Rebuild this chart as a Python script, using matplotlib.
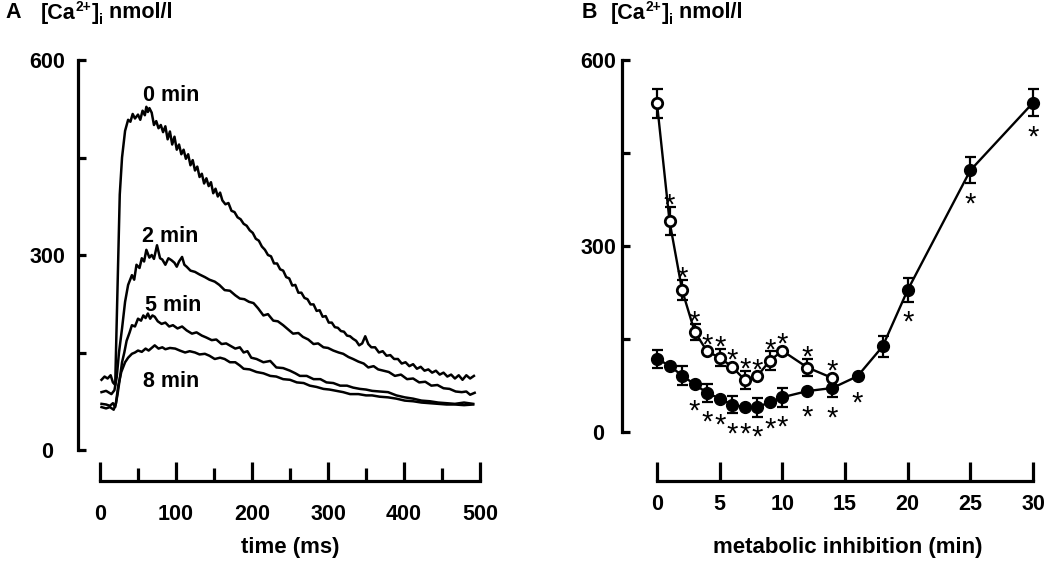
import matplotlib
matplotlib.use("Agg")
import matplotlib.pyplot as plt

plt.rcParams['font.family'] = ['Liberation Sans', 'DejaVu Sans']
plt.rcParams['font.weight'] = 'bold'

# ---------------- Panel A data: [Ca2+]i transients (time ms, nmol/l) ----------------
t_0min = [2, 6, 10, 14, 17, 20, 23, 26, 29, 33, 37, 40, 43, 46, 50, 53, 56, 59, 61, 63,
          65, 68, 71, 74, 77, 80, 83, 86, 89, 92, 95, 98, 101, 104, 107, 110, 113, 116, 119, 122,
          125, 128, 131, 134, 137, 140, 143, 146, 149, 152, 155, 158, 161, 165, 169, 173, 177, 181, 185, 189,
          193, 197, 201, 205, 209, 213, 217, 221, 225, 229, 233, 237, 241, 245, 249, 253, 257, 261, 265, 269,
          273, 277, 281, 285, 289, 293, 297, 301, 305, 309, 313, 317, 321, 325, 329, 333, 337, 341, 345, 349,
          353, 357, 362, 367, 372, 377, 382, 387, 392, 397, 402, 407, 412, 417, 422, 427, 432, 437, 442, 447,
          452, 457, 462, 467, 472, 477, 482, 487, 492]
v_0min = [108, 113, 110, 115, 104, 100, 250, 393, 450, 491, 508, 505, 517, 510, 516, 508, 522, 515, 528, 520,
          526, 519, 500, 506, 495, 500, 489, 498, 478, 490, 470, 482, 462, 470, 455, 462, 448, 455, 438, 446,
          430, 436, 420, 425, 410, 418, 406, 412, 395, 402, 390, 396, 384, 378, 380, 368, 366, 358, 355, 348,
          345, 338, 334, 325, 322, 313, 308, 300, 298, 287, 287, 278, 276, 266, 264, 253, 254, 242, 242, 234,
          232, 224, 224, 214, 215, 205, 206, 196, 196, 189, 188, 183, 182, 176, 175, 171, 168, 161, 164, 175,
          163, 158, 158, 150, 152, 145, 146, 140, 140, 133, 135, 129, 132, 125, 128, 122, 124, 119, 122, 116,
          119, 113, 116, 110, 115, 108, 115, 110, 114]

t_2min = [2, 8, 15, 19, 22, 25, 29, 33, 37, 42, 45, 48, 52, 55, 58, 61, 65, 68, 71, 75,
          79, 82, 86, 90, 94, 98, 101, 104, 108, 111, 114, 119, 125, 131, 138, 144, 151, 157, 164, 171,
          178, 184, 190, 196, 202, 208, 215, 221, 228, 234, 241, 247, 254, 261, 267, 274, 281, 287, 294, 300,
          307, 314, 320, 327, 333, 340, 347, 353, 360, 366, 373, 380, 388, 396, 404, 412, 420, 428, 436, 444,
          452, 460, 468, 476, 482, 487, 493]
v_2min = [89, 91, 86, 92, 112, 150, 187, 228, 254, 269, 262, 285, 280, 295, 290, 308, 296, 300, 294, 315,
          295, 293, 285, 295, 292, 288, 282, 290, 297, 285, 282, 276, 274, 270, 266, 262, 259, 254, 246, 245,
          238, 233, 232, 228, 226, 218, 207, 209, 199, 198, 192, 186, 179, 180, 174, 170, 163, 164, 158, 157,
          153, 150, 148, 143, 140, 136, 133, 127, 129, 124, 122, 120, 114, 116, 109, 110, 104, 105, 99, 100,
          95, 94, 90, 89, 90, 85, 88]

t_5min = [2, 8, 13, 17, 20, 23, 26, 29, 32, 35, 39, 42, 46, 50, 54, 57, 60, 63, 66, 69,
          72, 76, 81, 86, 91, 96, 102, 108, 114, 121, 127, 134, 140, 147, 153, 160, 166, 172, 178, 184,
          189, 194, 199, 206, 215, 224, 232, 241, 250, 257, 263, 272, 281, 290, 298, 307, 316, 325, 333, 342,
          350, 358, 368, 379, 390, 401, 412, 423, 434, 445, 456, 467, 479, 491]
v_5min = [71, 70, 68, 72, 66, 85, 109, 135, 150, 168, 181, 192, 190, 202, 199, 207, 203, 210, 202, 207,
          205, 198, 194, 196, 190, 192, 187, 190, 184, 179, 181, 176, 173, 169, 170, 163, 164, 160, 156, 158,
          150, 152, 142, 140, 135, 137, 127, 126, 122, 118, 114, 114, 109, 109, 104, 103, 99, 99, 96, 94,
          93, 91, 90, 89, 84, 81, 79, 76, 75, 73, 72, 71, 73, 71]

t_8min = [2, 8, 13, 18, 21, 24, 28, 33, 37, 42, 46, 50, 55, 60, 64, 68, 72, 77, 82, 86,
          92, 99, 105, 112, 118, 125, 131, 138, 144, 151, 158, 164, 171, 178, 184, 189, 197, 206, 215, 224,
          232, 241, 250, 259, 268, 276, 285, 294, 302, 311, 320, 329, 340, 350, 358, 368, 379, 390, 401, 412,
          423, 434, 445, 456, 467, 479, 491]
v_8min = [66, 64, 66, 62, 72, 99, 120, 135, 142, 148, 150, 153, 151, 156, 153, 157, 161, 156, 158, 155,
          157, 156, 153, 150, 152, 150, 147, 148, 145, 140, 142, 140, 135, 135, 130, 125, 124, 120, 118, 114,
          113, 109, 108, 104, 103, 99, 97, 94, 93, 91, 89, 86, 86, 84, 84, 82, 81, 79, 76, 75,
          73, 72, 71, 70, 70, 69, 70]

trace_labels = ['0 min', '2 min', '5 min', '8 min']
label_pos_t = [94, 93, 96, 94]
label_pos_v = [546, 328, 223, 106]

# ---------------- Panel B data: [Ca2+]i vs metabolic inhibition ----------------
open_t = [0, 1, 2, 3, 4, 5, 6, 7, 8, 9, 10, 12, 14]
open_v = [530, 340, 229, 162, 130, 120, 105, 84, 90, 115, 131, 104, 87]
open_err = [23, 23, 16, 13, 0, 14, 0, 15, 0, 15, 0, 14, 0]
open_sig = [1, 2, 3, 4, 5, 6, 7, 8, 9, 10, 12, 14]

filled_t = [0, 1, 2, 3, 4, 5, 6, 7, 8, 9, 10, 12, 14, 16, 18, 20, 25, 30]
filled_v = [118, 107, 91, 77, 63, 54, 44, 40, 40, 48, 56, 66, 71, 90, 138, 229, 422, 531]
filled_err = [14, 0, 15, 0, 14, 0, 14, 0, 15, 0, 15, 0, 15, 0, 17, 19, 21, 22]
filled_sig = [3, 4, 5, 6, 7, 8, 9, 10, 12, 14, 16, 20, 25, 30]

W, H = 1048, 563
fig = plt.figure(figsize=(W / 100, H / 100), dpi=100)
PT = 0.72  # points per pixel


def px_axes(x0, x1, ytop, ybot):
    return fig.add_axes([x0 / W, 1 - ybot / H, (x1 - x0) / W, (ybot - ytop) / H])


def style_axes(ax, left_out, bottom_out, xmax, ylab_pad, xlab_pad, xfs):
    for s in ['top', 'right']:
        ax.spines[s].set_visible(False)
    ax.spines['left'].set_position(('outward', left_out * PT))
    ax.spines['bottom'].set_position(('outward', bottom_out * PT))
    ax.spines['left'].set_bounds(0, 600)
    ax.spines['bottom'].set_bounds(0, xmax)
    for s in ['left', 'bottom']:
        ax.spines[s].set_linewidth(2.3)
        ax.spines[s].set_capstyle('projecting')
    ax.set_yticks([0, 300, 600])
    ax.set_yticks([150, 450], minor=True)
    ax.tick_params(axis='y', which='both', direction='in', length=8 * PT, width=2.3,
                   pad=ylab_pad * PT, labelsize=15.5)
    ax.tick_params(axis='x', which='major', direction='in', length=19 * PT, width=2.3,
                   pad=xlab_pad * PT, labelsize=xfs)
    ax.tick_params(axis='x', which='minor', direction='in', length=13 * PT, width=2.3)
    for lab in ax.get_yticklabels():
        lab.set_ha('center')
        lab.set_fontweight('bold')
    for lab in ax.get_xticklabels():
        lab.set_fontweight('bold')
    ax.patch.set_visible(False)


# ---------------- Panel A ----------------
axA = px_axes(100, 480, 60, 450)
axA.set_xlim(0, 500)
axA.set_ylim(0, 600)
axA.set_xticks([0, 100, 200, 300, 400, 500])
axA.set_xticks([50, 150, 250, 350, 450], minor=True)
style_axes(axA, 22, 31, 500, 31, 23, 15.5)
for tt, vv in [(t_0min, v_0min), (t_2min, v_2min), (t_5min, v_5min), (t_8min, v_8min)]:
    axA.plot(tt, vv, color='black', lw=1.8, clip_on=False)
for lab, lt, lv in zip(trace_labels, label_pos_t, label_pos_v):
    axA.text(lt, lv, lab, ha='center', va='center', fontsize=15.5, fontweight='bold')

# ---------------- Panel B ----------------
axB = px_axes(657, 1033, 60, 432)
axB.set_xlim(0, 30)
axB.set_ylim(0, 600)
axB.set_xticks([0, 5, 10, 15, 20, 25, 30])
style_axes(axB, 35, 49, 30, 24, 13, 15.5)

axB.errorbar(open_t, open_v, yerr=open_err, fmt='none', ecolor='black', elinewidth=1.6,
             capsize=5.5 * PT, capthick=1.6, zorder=2, clip_on=False)
axB.errorbar(filled_t, filled_v, yerr=filled_err, fmt='none', ecolor='black', elinewidth=1.6,
             capsize=5.5 * PT, capthick=1.6, zorder=2, clip_on=False)
axB.plot(filled_t, filled_v, '-o', color='black', lw=1.7, ms=8.5, mfc='black', mec='black',
         zorder=3, clip_on=False)
axB.plot(open_t, open_v, '-o', color='black', lw=1.7, ms=7.5, mfc='white', mec='black', mew=2.0,
         zorder=4, clip_on=False)

pxper = 372 / 600.0
STAR_FS = 21
glyph_c = 0.58 * STAR_FS  # asterisk glyph centre above baseline (points)
for t, v, e in zip(open_t, open_v, open_err):
    if t in open_sig:
        off = (max(e * pxper, 5) + 10) * PT
        axB.annotate('*', xy=(t, v), xytext=(0, off - glyph_c), textcoords='offset points',
                     ha='center', va='baseline', fontsize=STAR_FS, fontweight='normal',
                     annotation_clip=False)
for t, v, e in zip(filled_t, filled_v, filled_err):
    if t in filled_sig:
        off = (max(e * pxper, 6) + 12) * PT
        axB.annotate('*', xy=(t, v), xytext=(0, -off - glyph_c), textcoords='offset points',
                     ha='center', va='baseline', fontsize=STAR_FS, fontweight='normal',
                     annotation_clip=False)

# ---------------- Texts ----------------
renderer = fig.canvas.get_renderer()


def ftext(x, y, s, **kw):
    return fig.text(x / W, 1 - y / H, s, **kw)


def header(x, y, fs):
    """[Ca2+]i nmol/l built from plain text pieces (x, y in pixels from top-left)."""
    pieces = [('[Ca', 1.0, 0.0), ('2+', 0.64, 0.36), (']', 1.0, 0.0),
              ('i', 0.66, -0.26), (' nmol/l', 1.0, 0.0)]
    cx = x
    em = fs / PT
    for s, scale, shift in pieces:
        t = ftext(cx, y - shift * em, s, ha='left', va='baseline', fontsize=fs * scale,
                  fontweight='bold')
        bb = t.get_window_extent(renderer)
        cx = bb.x1 + (0.5 if s == '2+' else 0)


ftext(5, 18.5, 'A', ha='left', va='baseline', fontsize=15.5, fontweight='bold')
header(41, 18.5, 15.5)
ftext(582, 18.5, 'B', ha='left', va='baseline', fontsize=15.5, fontweight='bold')
header(611, 18.5, 15.5)
ftext(290, 548, 'time (ms)', ha='center', va='center', fontsize=16, fontweight='bold')
ftext(848, 548, 'metabolic inhibition (min)', ha='center', va='center', fontsize=16, fontweight='bold')

fig.savefig('out.png', dpi=100)
